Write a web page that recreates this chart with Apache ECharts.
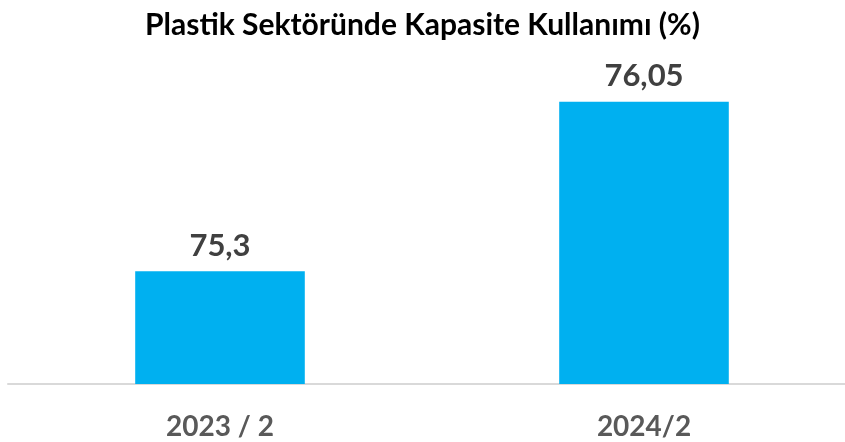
<!DOCTYPE html>
<html>
<head>
<meta charset="utf-8">
<script src="https://cdn.jsdelivr.net/npm/echarts@6/dist/echarts.min.js"></script>
<style>
  html, body { margin: 0; padding: 0; background: #fff; }
  #chart { width: 845px; height: 442px; }
</style>
</head>
<body>
<div id="chart"></div>
<script>
var categories = ['2023 / 2', '2024/2'];
var values = [75.3, 76.05];

var chart = echarts.init(document.getElementById('chart'));

var option = {
  animation: false,
  title: {
    text: 'Plastik Sektöründe Kapasite Kullanımı (%)',
    left: 'center',
    top: 5,
    textStyle: {
      fontFamily: 'Lato',
      fontWeight: 'bold',
      fontSize: 30,
      color: '#000'
    }
  },
  // plot runs a bit past the right edge, like the original
  grid: {
    left: 8,
    width: 848,
    top: 68,
    bottom: 58,
    outerBoundsMode: 'none'
  },
  xAxis: {
    type: 'category',
    data: categories,
    axisLine: { lineStyle: { color: '#d9d9d9', width: 2 } },
    axisTick: { show: false },
    axisLabel: {
      margin: 29,
      fontFamily: 'Lato',
      fontWeight: 'bold',
      fontSize: 28,
      color: '#595959'
    }
  },
  yAxis: {
    type: 'value',
    min: 74.8,
    max: 76.2,
    show: false,
    splitLine: { show: false }
  },
  series: [
    {
      type: 'bar',
      data: values,
      barWidth: '40%',
      itemStyle: { color: '#00b0f0' },
      label: {
        show: true,
        position: 'top',
        distance: 10,
        fontFamily: 'Lato',
        fontWeight: 'bold',
        fontSize: 31,
        color: '#404040',
        formatter: function (p) {
          return String(p.value).replace('.', ',');
        }
      }
    }
  ]
};

chart.setOption(option);
</script>
</body>
</html>
